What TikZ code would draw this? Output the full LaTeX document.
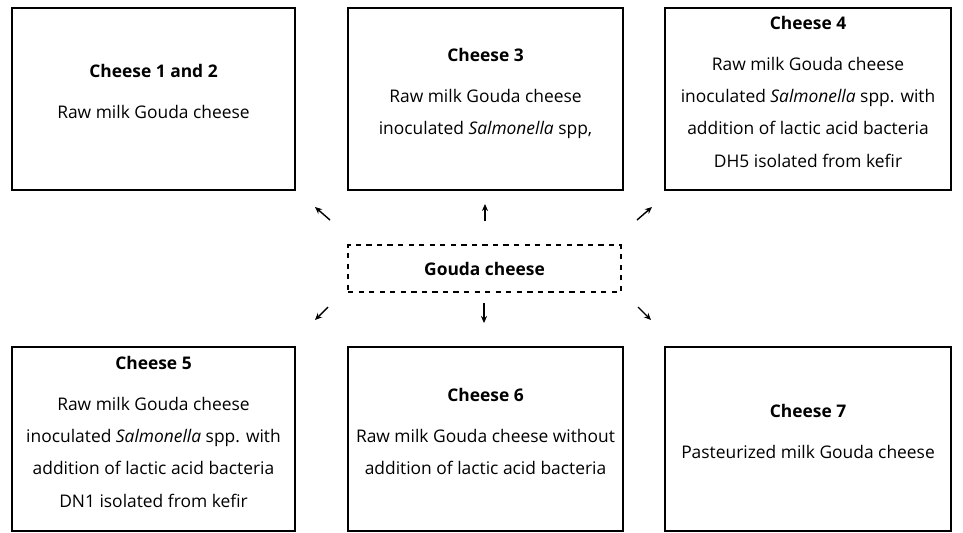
\documentclass[tikz,border=0pt]{standalone}
\usepackage{fontspec}
\setmainfont{Open Sans}
\usetikzlibrary{arrows.meta}

\begin{document}
\begin{tikzpicture}[box/.style = {draw, line width=0.7pt, align=center, inner sep=0pt},
                    lifted/.style = {text depth=8.5pt},
                    arr/.style = {-{Stealth[length=4pt,width=3.5pt]}, line width=0.8pt},
                    font=\fontsize{9.9}{18.4}\selectfont]
  \useasboundingbox (0,0) rectangle (19.26,-10.64);
  % upper row
  \node[box, lifted, minimum width=5.66cm, minimum height=3.64cm] (c12) at (3.07,-1.98)
    {\textbf{Cheese 1 and 2}\\[5pt] Raw milk Gouda cheese};
  \node[box, lifted, minimum width=5.5cm, minimum height=3.64cm] (c3) at (9.71,-1.98)
    {\textbf{Cheese 3}\\[5pt] Raw milk Gouda cheese\\ inoculated \textit{Salmonella} spp,};
  \node[box, lifted, minimum width=5.72cm, minimum height=3.64cm] (c4) at (16.16,-1.98)
    {\textbf{Cheese 4}\\[5pt] Raw milk Gouda cheese\\ inoculated \textit{Salmonella} spp. with\\
     addition of lactic acid bacteria\\ DH5 isolated from kefir};
  % middle
  \node[box, dashed, line width=0.6pt, minimum width=5.46cm, minimum height=0.94cm] (g) at (9.69,-5.37)
    {\textbf{Gouda cheese}};
  % lower row
  \node[box, lifted, minimum width=5.66cm, minimum height=3.68cm] (c5) at (3.07,-8.78)
    {\textbf{Cheese 5}\\[5pt] Raw milk Gouda cheese\\ inoculated \textit{Salmonella} spp. with\\
     addition of lactic acid bacteria\\ DN1 isolated from kefir};
  \node[box, lifted, minimum width=5.5cm, minimum height=3.68cm] (c6) at (9.71,-8.78)
    {\textbf{Cheese 6}\\[5pt] Raw milk Gouda cheese without\\ addition of lactic acid bacteria};
  \node[box, lifted, minimum width=5.72cm, minimum height=3.68cm] (c7) at (16.16,-8.78)
    {\textbf{Cheese 7}\\[5pt] Pasteurized milk Gouda cheese};

  % arrow ends
  \coordinate (ul0) at (6.6,-4.4);    \coordinate (ul1) at (6.3,-4.14);
  \coordinate (u0) at (9.7,-4.42);    \coordinate (u1) at (9.7,-4.08);
  \coordinate (ur0) at (12.74,-4.4);  \coordinate (ur1) at (13.04,-4.14);
  \coordinate (ll0) at (6.56,-6.14);  \coordinate (ll1) at (6.3,-6.4);
  \coordinate (d0) at (9.68,-6.06);   \coordinate (d1) at (9.68,-6.46);
  \coordinate (lr0) at (12.76,-6.14); \coordinate (lr1) at (13.02,-6.4);

  \draw[arr] (ul0) -- (ul1);
  \draw[arr] (u0) -- (u1);
  \draw[arr] (ur0) -- (ur1);
  \draw[arr] (ll0) -- (ll1);
  \draw[arr] (d0) -- (d1);
  \draw[arr] (lr0) -- (lr1);
\end{tikzpicture}
\end{document}
